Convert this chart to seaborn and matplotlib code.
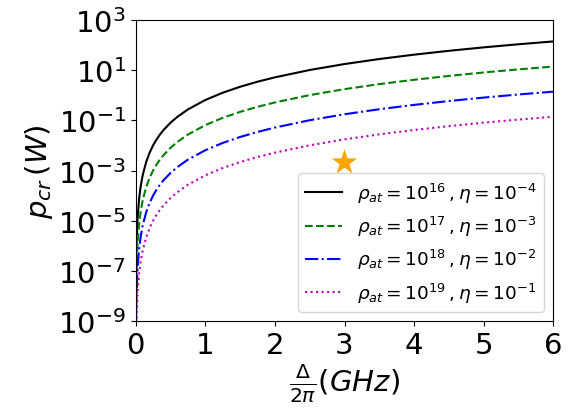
import matplotlib
matplotlib.use("Agg")
import matplotlib.pyplot as plt
import seaborn as sns
import pandas as pd
from matplotlib.ticker import FixedLocator, NullLocator

# Detuning Delta/2pi (GHz)
detuning = [0.001, 0.002, 0.005, 0.01, 0.02, 0.03, 0.05, 0.07, 0.1, 0.15, 0.2, 0.25,
            0.3, 0.35, 0.4, 0.5, 0.6, 0.75, 1.0, 1.25, 1.5, 1.75, 2.0, 2.5, 3.0, 3.5,
            4.0, 4.5, 5.0, 5.5, 6.0]

# Critical power p_cr (W)
p_rho16 = [6.5e-10, 5.2e-9, 8.1e-8, 6.5e-7, 5.2e-6, 1.76e-5, 8.1e-5, 2.23e-4, 6.5e-4,
           2.19e-3, 5.2e-3, 1.02e-2, 1.76e-2, 2.79e-2, 4.16e-2, 8.1e-2, 0.140, 0.274,
           0.65, 1.27, 2.19, 3.48, 5.2, 10.2, 17.6, 27.9, 41.6, 59.2, 81.3, 108.0, 140.0]
p_rho17 = [6.5e-11, 5.2e-10, 8.1e-9, 6.5e-8, 5.2e-7, 1.76e-6, 8.1e-6, 2.23e-5, 6.5e-5,
           2.19e-4, 5.2e-4, 1.02e-3, 1.76e-3, 2.79e-3, 4.16e-3, 8.1e-3, 0.0140, 0.0274,
           0.065, 0.127, 0.219, 0.348, 0.52, 1.02, 1.76, 2.79, 4.16, 5.92, 8.13, 10.8, 14.0]
p_rho18 = [6.5e-12, 5.2e-11, 8.1e-10, 6.5e-9, 5.2e-8, 1.76e-7, 8.1e-7, 2.23e-6, 6.5e-6,
           2.19e-5, 5.2e-5, 1.02e-4, 1.76e-4, 2.79e-4, 4.16e-4, 8.1e-4, 0.00140, 0.00274,
           0.0065, 0.0127, 0.0219, 0.0348, 0.052, 0.102, 0.176, 0.279, 0.416, 0.592,
           0.813, 1.08, 1.40]
p_rho19 = [6.5e-13, 5.2e-12, 8.1e-11, 6.5e-10, 5.2e-9, 1.76e-8, 8.1e-8, 2.23e-7, 6.5e-7,
           2.19e-6, 5.2e-6, 1.02e-5, 1.76e-5, 2.79e-5, 4.16e-5, 8.1e-5, 0.000140,
           0.000274, 0.00065, 0.00127, 0.00219, 0.00348, 0.0052, 0.0102, 0.0176, 0.0279,
           0.0416, 0.0592, 0.0813, 0.108, 0.140]

labels = [r"$\rho_{at}=10^{16}\,,\eta=10^{-4}$",
          r"$\rho_{at}=10^{17}\,,\eta=10^{-3}$",
          r"$\rho_{at}=10^{18}\,,\eta=10^{-2}$",
          r"$\rho_{at}=10^{19}\,,\eta=10^{-1}$"]
colors = ["black", "green", "blue", "m"]
styles = ["-", "--", "-.", ":"]

star_x = [3.0]
star_y = [2.1e-3]

xticks = [0, 1, 2, 3, 4, 5, 6]
yticks = [1e-9, 1e-7, 1e-5, 1e-3, 1e-1, 1e1, 1e3]

series = [p_rho16, p_rho17, p_rho18, p_rho19]

fig = plt.figure(figsize=(5.76, 4.14), dpi=100)
ax = fig.add_axes([0.2356, 0.2215, 0.7250, 0.7278])

for vals, lab, col, ls in zip(series, labels, colors, styles):
    df = pd.DataFrame({"x": detuning, "y": vals})
    sns.lineplot(data=df, x="x", y="y", ax=ax, color=col, linestyle=ls,
                 linewidth=1.5, label=lab)

sns.scatterplot(x=star_x, y=star_y, ax=ax, marker="*", s=380, color="orange",
                edgecolor="none", zorder=5)

ax.set_yscale("log")
ax.set_xlim(0, 6)
ax.set_ylim(1e-9, 1e3)
ax.xaxis.set_major_locator(FixedLocator(xticks))
ax.yaxis.set_major_locator(FixedLocator(yticks))
ax.yaxis.set_minor_locator(NullLocator())
ax.tick_params(labelsize=21)
ax.set_xlabel(r"$\frac{\Delta}{2\pi}(GHz)$", fontsize=21, labelpad=2)
ax.set_ylabel(r"$p_{cr}\,(W)$", fontsize=21, labelpad=2)
for sp in ax.spines.values():
    sp.set_color("black")

ax.legend(loc="lower right", fontsize=13.3, handlelength=2.0)

fig.savefig("out.png", dpi=100)
